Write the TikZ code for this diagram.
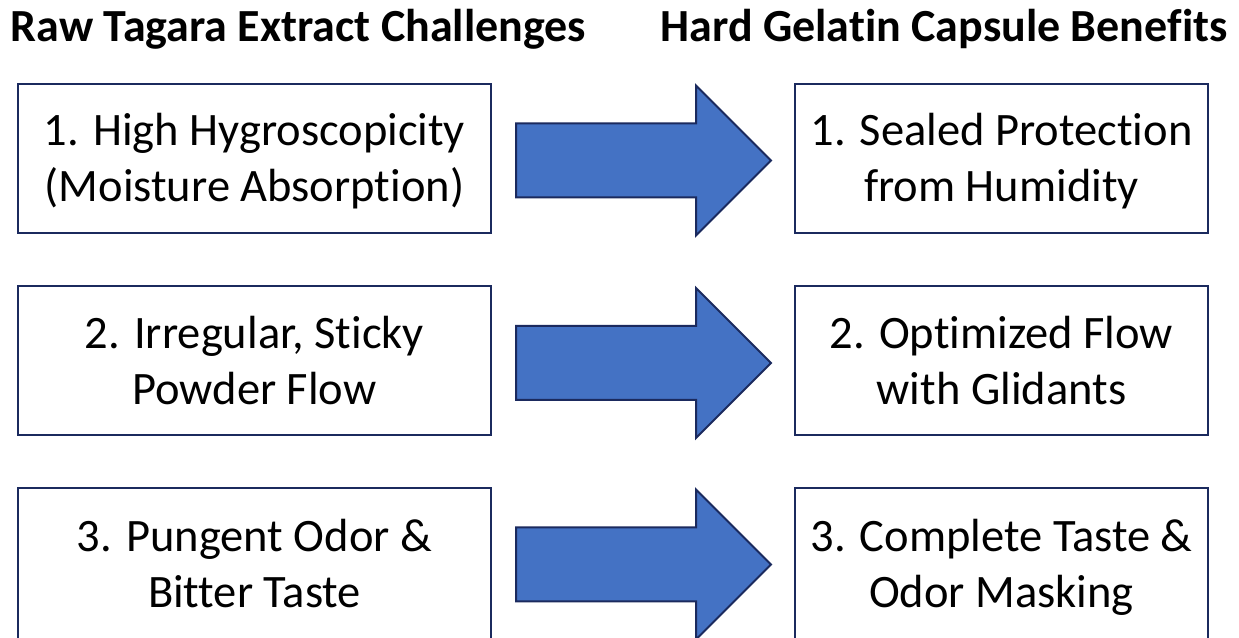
\documentclass[tikz,border=0pt]{standalone}
\usepackage{fontspec}
\setmainfont{Carlito}[Ligatures=NoCommon]
\usetikzlibrary{calc}
\definecolor{navy}{HTML}{1B2A5E}
\definecolor{arrowblue}{HTML}{4472C4}
\tikzset{
  x=1pt, y=1pt,
  box/.style={draw=navy, line width=2pt, fill=white, rectangle, inner sep=0pt},
  leftbox/.style={box, minimum width=473pt, minimum height=149pt},
  rightbox/.style={box, minimum width=413pt, minimum height=149pt},
  txt/.style={align=center, inner sep=0pt, font=\fontsize{46.5}{56}\selectfont},
  head/.style={anchor=base, inner sep=0pt, font=\fontsize{46}{52}\selectfont\bfseries},
  blockarrow/.style={draw=navy, line width=2pt, fill=arrowblue, line join=miter},
}
\begin{document}
\begin{tikzpicture}
\useasboundingbox (0,0) rectangle (1239,637);
\node[head] (hl) at (298.5,595) {Raw Tagara Extract Challenges};
\node[head] (hr) at (944,595) {Hard Gelatin Capsule Benefits};

\node[leftbox] (L1) at (254.5,478.5) {};
\node[leftbox] (L2) at (254.5,276) {};
\node[leftbox, minimum height=153pt] (L3) at (254.5,72.5) {};
\node[rightbox] (R1) at (1001.5,478.5) {};
\node[rightbox] (R2) at (1001.5,276) {};
\node[rightbox, minimum height=153pt] (R3) at (1001.5,72.5) {};

\node[txt] (tl1) at ([yshift=-4pt]L1.center) {\strut 1. High Hygroscopicity\\(Moisture Absorption)\strut};
\node[txt] (tl2) at ([yshift=-4pt]L2.center) {\strut 2. Irregular, Sticky\\Powder Flow\strut};
\node[txt] (tl3) at ([yshift=-4pt]L3.center) {\strut 3. Pungent Odor \&\\Bitter Taste\strut};
\node[txt] (tr1) at ([yshift=-4pt]R1.center) {\strut 1. Sealed Protection\\from Humidity\strut};
\node[txt] (tr2) at ([yshift=-4pt]R2.center) {\strut 2. Optimized Flow\\with Glidants\strut};
\node[txt] (tr3) at ([yshift=-4pt]R3.center) {\strut 3. Complete Taste \&\\Odor Masking\strut};

\foreach \i/\dy in {1/0,2/0,3/2} {
  \draw[blockarrow] let \p1=(L\i.east), \p2=(R\i.west) in
    (\x1+24pt,\y1-39pt+\dy pt) -- (\x2-98pt,\y1-39pt+\dy pt) -- (\x2-98pt,\y1-77pt+\dy pt)
    -- (\x2-23pt,\y1-2pt+\dy pt) -- (\x2-98pt,\y1+73pt+\dy pt) -- (\x2-98pt,\y1+35pt+\dy pt)
    -- (\x1+24pt,\y1+35pt+\dy pt) -- cycle;
}
\end{tikzpicture}
\end{document}
